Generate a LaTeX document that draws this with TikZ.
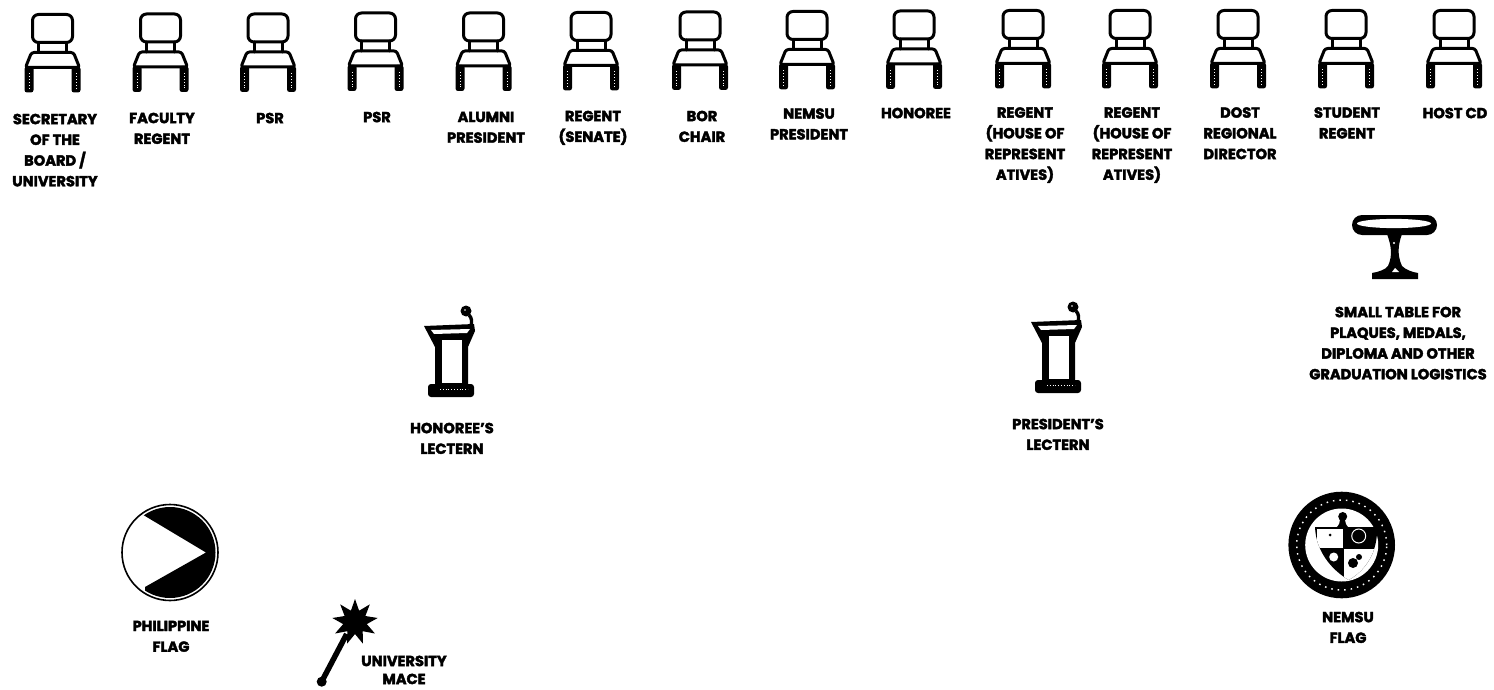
\documentclass[tikz,border=0pt]{standalone}
\usepackage{fontspec}
\setmainfont{Poppins}[FakeBold=2.6]
\tikzset{
  x=1pt,y=-1pt,
  ink/.style={draw=black,line width=3pt,line join=round,line cap=round},
  lab/.style={anchor=north,align=center,inner sep=0pt,text=black,
    font=\fontsize{14.6}{20.7}\selectfont\bfseries},
  chair/.pic={
    \draw[ink,rounded corners=6pt] (-20,1) -- (20,1) -- (20,29) -- (-20,29) -- cycle;
    \draw[ink] (-14,29) -- (-14,39) (14,29) -- (14,39);
    \draw[ink,rounded corners=2.5pt] (-27,54) -- (-21,39) -- (21,39) -- (27,54) -- cycle;
    \fill[black,rounded corners=2.5pt] (-28,53) -- (-19,53) -- (-19,79) -- (-28,79) -- cycle;
    \fill[black,rounded corners=2.5pt] (19,53) -- (28,53) -- (28,79) -- (19,79) -- cycle;
    \draw[white,line width=.9pt,dotted] (-23.5,60) -- (-23.5,75) (23.5,60) -- (23.5,75);
  },
  lectern/.pic={
    \fill[black] (34,36) -- (84,34) -- (85,41) -- (78,57) -- (78,95) -- (45,95) -- (45,57) -- cycle;
    \fill[white] (41,40) -- (80,39) -- (77,43) -- (44,44) -- cycle;
    \fill[white] (52,50) rectangle (72,93);
    \fill[black,rounded corners=3pt] (38,94) rectangle (84,107);
    \draw[white,line width=.8pt,dotted] (50,99) -- (78,99);
    \fill[black] (76,21) circle[radius=5.5pt];
    \fill[white] (75,20) circle[radius=.8pt];
    \draw[black,line width=3.4pt] (79,25) .. controls (82,28) and (82,32) .. (81,36);
  }
}
\begin{document}
\begin{tikzpicture}
\useasboundingbox (0,0) rectangle (1494,690);
\fill[white] (0,0) rectangle (1494,690);
% chairs
\pic (c1) at (52.5,13.5) {chair};
\pic (c2) at (160.5,13) {chair};
\pic (c3) at (268,13) {chair};
\pic (c4) at (375.5,12) {chair};
\pic (c5) at (483.5,12) {chair};
\pic (c6) at (591,11.5) {chair};
\pic (c7) at (700,11) {chair};
\pic (c8) at (807,10.5) {chair};
\pic (c9) at (914,10) {chair};
\pic (c10) at (1023,9.5) {chair};
\pic (c11) at (1130,9.5) {chair};
\pic (c12) at (1238,9.5) {chair};
\pic (c13) at (1346,9.5) {chair};
\pic (c14) at (1454,9.5) {chair};
% chair labels
\node[lab] (l1) at (55,113.6) {SECRETARY\\OF THE\\BOARD /\\UNIVERSITY};
\node[lab] (l2) at (162,112.6) {FACULTY\\REGENT};
\node[lab] (l3) at (270,112.6) {PSR};
\node[lab] (l4) at (377,111.6) {PSR};
\node[lab] (l5) at (486,111.6) {ALUMNI\\PRESIDENT};
\node[lab] (l6) at (593,110.6) {REGENT\\(SENATE)};
\node[lab] (l7) at (702,110.6) {BOR\\CHAIR};
\node[lab] (l8) at (809,108.1) {NEMSU\\PRESIDENT};
\node[lab] (l9) at (916,107.6) {HONOREE};
\node[lab] (l10) at (1025,107.1) {REGENT\\(HOUSE OF\\REPRESENT\\ATIVES)};
\node[lab] (l11) at (1132,107.1) {REGENT\\(HOUSE OF\\REPRESENT\\ATIVES)};
\node[lab] (l12) at (1240,107.1) {DOST\\REGIONAL\\DIRECTOR};
\node[lab] (l13) at (1347,107.1) {STUDENT\\REGENT};
\node[lab] (l14) at (1455,107.6) {HOST CD};
% table
\fill[black,rounded corners=10pt] (1352,215) rectangle (1437,235);
\fill[white] (1394,223.5) ellipse[x radius=37pt,y radius=4.6pt];
\fill[black] (1387,234) -- (1402,234) .. controls (1398,245) and (1397,255) .. (1402,266)
  .. controls (1406,270) and (1412,272) .. (1418,273) -- (1418,279) -- (1372,279) -- (1372,273)
  .. controls (1378,272) and (1385,270) .. (1388,266) .. controls (1393,255) and (1391,245) .. (1387,234) -- cycle;
\fill[white] (1395,268) -- (1392,272) -- (1399,272) -- cycle;
\fill[white] (1394,243) circle[radius=1.2pt];
\node[lab] (ltable) at (1398,306.6) {SMALL TABLE FOR\\PLAQUES, MEDALS,\\DIPLOMA AND OTHER\\GRADUATION LOGISTICS};
% lecterns
\pic (lec1) at (390,290) {lectern};
\pic (lec2) at (997,286) {lectern};
\node[lab] (llec1) at (452,422.6) {HONOREE'S\\LECTERN};
\node[lab] (llec2) at (1058,418.6) {PRESIDENT'S\\LECTERN};
% Philippine flag
\draw[black,line width=1.6pt] (170,552.5) circle[radius=48pt];
\begin{scope}
  \clip (170,552.5) circle[radius=45.5pt];
  \fill[black] (206,552.5) -- (143.3,515) -- (143,490) -- (230,490) -- (230,615) -- (145,615) -- (145,587) -- cycle;
\end{scope}
\node[lab] (lphil) at (171,620.6) {PHILIPPINE\\FLAG};
% mace
\draw[black,line width=5.5pt] (346.7,634) -- (322,681);
\fill[black] (321.7,681.7) circle[radius=5pt];
\fill[black] plot[samples at={0,...,17}] ({355+(mod(\x,2)==0?23:12)*cos(\x*20-90)},{622+(mod(\x,2)==0?23:12)*sin(\x*20-90)}) -- cycle;
\node[lab,font=\fontsize{14.6}{18}\selectfont\bfseries] (lmace) at (404,655.5) {UNIVERSITY\\MACE};
% NEMSU seal
\fill[black] (1341.7,545) circle[radius=53.3pt];
\draw[white,line width=1.4pt,dash pattern=on 1.5pt off 5pt] (1341.7,545) circle[radius=45pt];
\fill[white] (1341.7,545) circle[radius=36.5pt];
\begin{scope}
  \clip (1315,527) -- (1377,527) .. controls (1378,552) and (1366,570) .. (1348.7,580)
    .. controls (1332,570) and (1316,552) .. (1315,527) -- cycle;
  \fill[black] (1310,520) rectangle (1380,585);
  \fill[white] (1317,529) rectangle (1342.5,547.5);
  \fill[white] (1344,549) rectangle (1380,585);
  \draw[white,line width=1pt] (1358.7,536) circle[radius=7pt];
  \fill[white] (1333.7,557) circle[radius=4.5pt];
  \fill[black] (1353,563) circle[radius=5pt];
  \fill[black] (1359,557) circle[radius=3pt];
  \fill[black] (1330,535) circle[radius=1.5pt];
\end{scope}
\fill[black] (1336,528) .. controls (1339,525) and (1340,523) .. (1340,520) -- (1345,520) .. controls (1345,523) and (1346,525) .. (1349,528) -- cycle;
\fill[black] (1342.7,516.5) circle[radius=4.5pt];
\node[lab] (lnemsu) at (1348,611.6) {NEMSU\\FLAG};
\end{tikzpicture}
\end{document}
